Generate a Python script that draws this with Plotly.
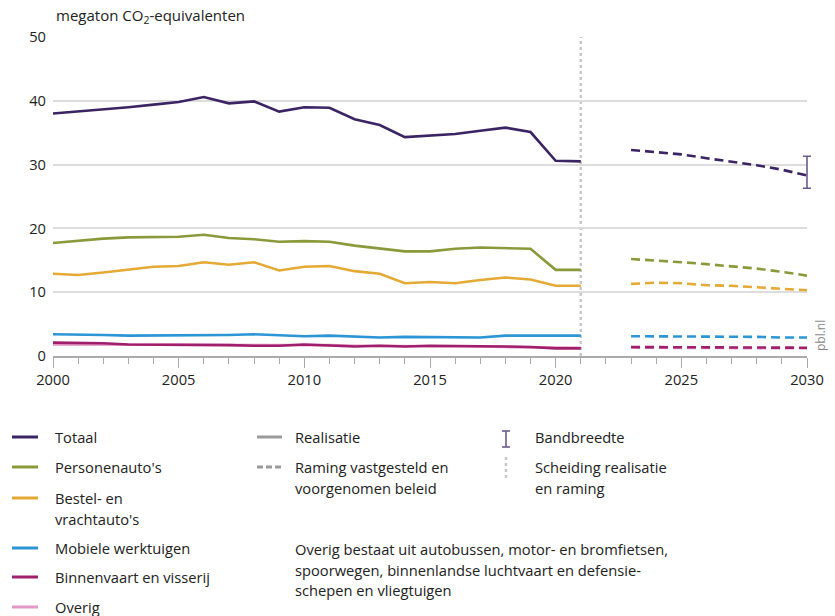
import plotly.graph_objects as go

years_real = [2000, 2001, 2002, 2003, 2004, 2005, 2006, 2007, 2008, 2009, 2010,
              2011, 2012, 2013, 2014, 2015, 2016, 2017, 2018, 2019, 2020, 2021]
years_proj = [2023, 2024, 2025, 2026, 2027, 2028, 2029, 2030]

totaal_real = [38.0, 38.3, 38.7, 39.0, 39.4, 39.8, 40.6, 39.6, 39.9, 38.3, 39.0,
               38.9, 37.1, 36.2, 34.3, 34.6, 34.8, 35.3, 35.8, 35.1, 30.6, 30.5]
totaal_proj = [32.3, 32.0, 31.6, 31.0, 30.5, 29.9, 29.2, 28.3]

pers_real = [17.7, 18.1, 18.4, 18.6, 18.7, 18.7, 19.0, 18.5, 18.3, 17.9, 18.0,
             17.9, 17.3, 16.9, 16.4, 16.4, 16.8, 17.0, 16.9, 16.8, 13.5, 13.5]
pers_proj = [15.2, 15.0, 14.7, 14.4, 14.1, 13.7, 13.2, 12.6]

bestel_real = [12.9, 12.7, 13.1, 13.5, 14.0, 14.1, 14.7, 14.3, 14.7, 13.4, 14.0,
               14.1, 13.3, 12.9, 11.4, 11.6, 11.4, 11.9, 12.3, 12.0, 11.0, 11.0]
bestel_proj = [11.3, 11.5, 11.4, 11.1, 11.0, 10.8, 10.6, 10.3]

mobiel_real = [3.4, 3.4, 3.3, 3.2, 3.2, 3.3, 3.3, 3.3, 3.4, 3.3, 3.1,
               3.2, 3.1, 2.9, 3.0, 3.0, 3.0, 2.9, 3.2, 3.2, 3.2, 3.2]
mobiel_proj = [3.1, 3.1, 3.0, 3.0, 3.0, 3.0, 2.9, 2.9]

binnen_real = [2.1, 2.1, 2.0, 1.8, 1.8, 1.8, 1.8, 1.7, 1.6, 1.6, 1.8,
               1.7, 1.5, 1.6, 1.5, 1.6, 1.6, 1.5, 1.5, 1.4, 1.2, 1.2]
binnen_proj = [1.4, 1.4, 1.4, 1.4, 1.4, 1.4, 1.3, 1.3]

overig_real = [1.8, 1.8, 1.7, 1.7, 1.8, 1.8, 1.8, 1.8, 1.8, 1.8, 1.7,
               1.7, 1.6, 1.6, 1.5, 1.5, 1.5, 1.5, 1.4, 1.4, 1.3, 1.3]
overig_proj = [1.3, 1.3, 1.3, 1.3, 1.2, 1.2, 1.2, 1.2]

band_year = 2030
band_low = 26.3
band_high = 31.3
split_year = 2021

series_names = ["Totaal", "Personenauto's", ["Bestel- en", "vrachtauto's"],
                "Mobiele werktuigen", "Binnenvaart en visserij", "Overig"]
colors = ["#3b2463", "#8a9a3b", "#e5a935", "#2b95d5", "#a01f6c", "#e397c4"]

real = [totaal_real, pers_real, bestel_real, mobiel_real, binnen_real, overig_real]
proj = [totaal_proj, pers_proj, bestel_proj, mobiel_proj, binnen_proj, overig_proj]

FONT = "Open Sans"
TXT = "#222222"
FS = 14.7

X0, X1 = 2000, 2030
Y0, Y1 = 0, 50

fig = go.Figure()

for i in reversed(range(len(series_names))):
    fig.add_trace(go.Scatter(x=years_real, y=real[i], mode="lines",
                             line=dict(color=colors[i], width=2.6),
                             showlegend=False, hoverinfo="skip"))
    fig.add_trace(go.Scatter(x=years_proj, y=proj[i], mode="lines",
                             line=dict(color=colors[i], width=2.6, dash="9px,5px"),
                             showlegend=False, hoverinfo="skip"))

W, H = 835, 616
L, R, T, B = 53, 20, 37, 260          # outer plot box (slightly wider on the right)
PLOT_RIGHT = 807                      # where the visible x axis ends
pw, ph = W - L - R, H - T - B
main_dom = (PLOT_RIGHT - L) / pw

# error bar on an overlay subplot whose clip box reaches beyond the axis end
t_end = totaal_proj[-1]
fig.add_trace(go.Scatter(x=[band_year], y=[t_end], mode="markers", cliponaxis=False,
                         xaxis="x2", yaxis="y2",
                         marker=dict(size=1, color="rgba(0,0,0,0)"),
                         error_y=dict(type="data", symmetric=False,
                                      array=[band_high - t_end],
                                      arrayminus=[t_end - band_low],
                                      color="#6b5a8e", thickness=1.6, width=4),
                         showlegend=False, hoverinfo="skip"))


def px(x):
    return (x - L) / pw


def py(y):
    return (H - B - y) / ph


def txt(s, x, y, size=FS, color=TXT):
    return dict(text=s, xref="paper", yref="paper", x=px(x), y=py(y), xanchor="left",
                yanchor="middle", showarrow=False,
                font=dict(family=FONT, size=size, color=color))


shapes = []
shapes.append(dict(type="line", xref="x", yref="y", x0=split_year, x1=split_year,
                   y0=Y0, y1=Y1, line=dict(color="#c8c8c8", width=2.5, dash="dot"),
                   layer="below"))

annotations = []
annotations.append(txt("megaton CO<sub>2</sub>-equivalenten", 54, 16, size=15))
annotations.append(dict(text="pbl.nl", xref="paper", yref="paper", x=px(820), y=py(336),
                        xanchor="center", yanchor="middle", textangle=-90,
                        showarrow=False, font=dict(family=FONT, size=12, color="#888888")))

rows = [437, 467, 498, 548, 577, 607]
for i, name in enumerate(series_names):
    yy = rows[i]
    shapes.append(dict(type="line", xref="paper", yref="paper", x0=px(12), x1=px(38),
                       y0=py(yy), y1=py(yy), line=dict(color=colors[i], width=3)))
    lines = name if isinstance(name, list) else [name]
    for k, ln in enumerate(lines):
        annotations.append(txt(ln, 53, yy + 20.5 * k))

# column 2
shapes.append(dict(type="line", xref="paper", yref="paper", x0=px(257), x1=px(282),
                   y0=py(437), y1=py(437), line=dict(color="#9a9a9a", width=3)))
shapes.append(dict(type="line", xref="paper", yref="paper", x0=px(257), x1=px(282),
                   y0=py(467), y1=py(467), line=dict(color="#9a9a9a", width=3, dash="6px,3px")))
annotations.append(txt("Realisatie", 293, 437))
annotations.append(txt("Raming vastgesteld en", 293, 467))
annotations.append(txt("voorgenomen beleid", 293, 487.5))
for k, ln in enumerate(["Overig bestaat uit autobussen, motor- en bromfietsen,",
                        "spoorwegen, binnenlandse luchtvaart en defensie-",
                        "schepen en vliegtuigen"]):
    annotations.append(txt(ln, 293, 549 + 20.5 * k))

# column 3
bx = 506
shapes.append(dict(type="line", xref="paper", yref="paper", x0=px(bx), x1=px(bx),
                   y0=py(431), y1=py(447), line=dict(color="#6b5a8e", width=1.6)))
for yy in (431, 447):
    shapes.append(dict(type="line", xref="paper", yref="paper", x0=px(bx - 4), x1=px(bx + 4),
                       y0=py(yy), y1=py(yy), line=dict(color="#6b5a8e", width=1.6)))
shapes.append(dict(type="line", xref="paper", yref="paper", x0=px(bx), x1=px(bx),
                   y0=py(457), y1=py(479), line=dict(color="#c8c8c8", width=2.5, dash="dot")))
annotations.append(txt("Bandbreedte", 533, 437))
annotations.append(txt("Scheiding realisatie", 533, 467))
annotations.append(txt("en raming", 533, 487.5))

tickfont = dict(family=FONT, size=FS, color=TXT)

fig.update_layout(
    width=W, height=H,
    margin=dict(l=L, r=R, t=T, b=B, autoexpand=False),
    paper_bgcolor="white", plot_bgcolor="rgba(0,0,0,0)",
    font=dict(family=FONT, size=FS, color=TXT),
    shapes=shapes, annotations=annotations,
    showlegend=False,
    xaxis=dict(domain=[0, main_dom], anchor="y", range=[X0, X1], dtick=5, tick0=2000,
               ticks="outside", ticklen=10, tickwidth=1.3, tickcolor="#aaaaaa",
               showline=True, linecolor="#aaaaaa", linewidth=1.5, showgrid=False,
               zeroline=False, fixedrange=True,
               minor=dict(dtick=1, ticks="outside", ticklen=6, tickcolor="#aaaaaa",
                          tickwidth=1.3, showgrid=False),
               tickfont=tickfont),
    yaxis=dict(domain=[0, 1], anchor="x", range=[Y0, Y1], dtick=10, showgrid=True,
               gridcolor="#dddddd", gridwidth=1.5, zeroline=False, showline=False,
               ticks="", ticklabelstandoff=6, fixedrange=True, tickfont=tickfont),
    xaxis2=dict(domain=[0, 1], anchor="y2", range=[X0, X0 + (X1 - X0) / main_dom],
                visible=False, fixedrange=True),
    yaxis2=dict(domain=[0, 1], anchor="x2", range=[Y0, Y1], visible=False, fixedrange=True),
)

fig.write_html("out.html", config={"displayModeBar": False},
               post_script="document.body.style.margin='0';document.body.style.overflow='hidden';")
